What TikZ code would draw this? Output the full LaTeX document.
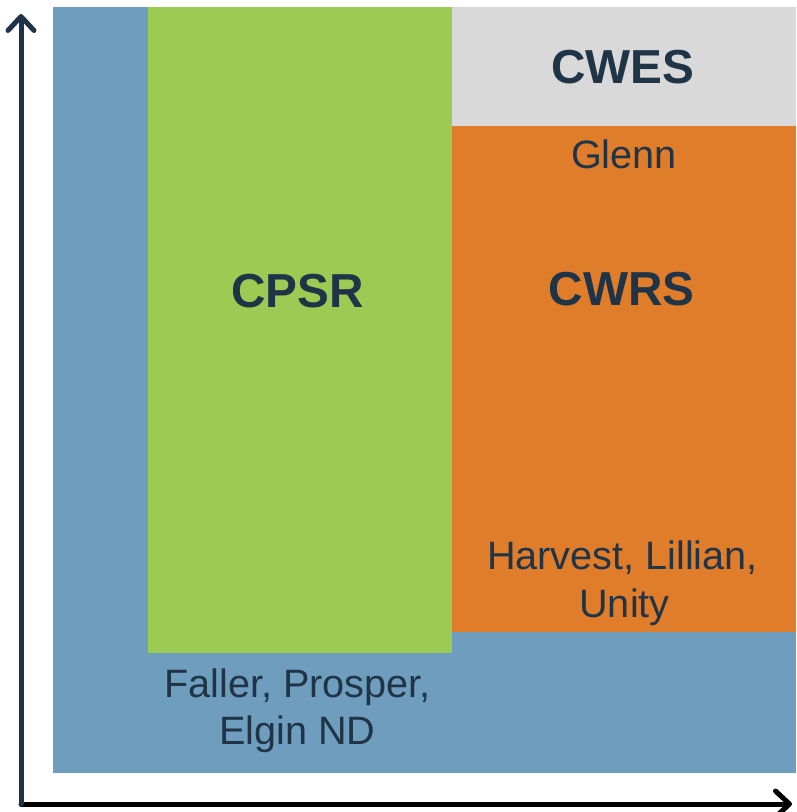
\documentclass[tikz,border=0pt]{standalone}
\usepackage{fontspec}
\setmainfont{Liberation Sans}
\usetikzlibrary{arrows.meta}
\definecolor{cblue}{HTML}{6F9DBD}
\definecolor{cgreen}{HTML}{9BCB53}
\definecolor{corange}{HTML}{E07D2B}
\definecolor{cgray}{HTML}{D9D9D9}
\definecolor{ctext}{HTML}{1F3447}
\definecolor{caxis}{HTML}{1F3447}
\begin{document}
\begin{tikzpicture}[x=1pt,y=-1pt,
  region/.style={fill=#1,draw=none},
  bigtxt/.style={text=ctext,font=\fontsize{47.7}{52}\selectfont\bfseries,inner sep=0pt,anchor=base},
  smalltxt/.style={text=ctext,font=\fontsize{39.6}{46}\selectfont,inner sep=0pt,anchor=base},
  axis/.style={line width=5pt,line cap=round,line join=round},
  axtip/.style={-{Straight Barb[length=14pt,width=26pt,round]}}
]
\useasboundingbox (0,0) rectangle (796,812);
% regions
\fill[region=cblue] (53,7) rectangle (796,773);
\fill[region=cgreen] (148,7) rectangle (452,653);
\fill[region=cgray] (452,7) rectangle (796,126);
\fill[region=corange] (452,126) rectangle (796,632);
% labels
\node[bigtxt] (cwes) at (623,83) {CWES};
\node[smalltxt] (glenn) at (624,168) {Glenn};
\node[bigtxt] (cwrs) at (621.5,305) {CWRS};
\node[bigtxt] (cpsr) at (297.5,307) {CPSR};
\node[smalltxt] (harvest) at (622.5,569) {Harvest, Lillian,};
\node[smalltxt] (unity) at (624.5,617) {Unity};
\node[smalltxt] (faller) at (297.5,697) {Faller, Prosper,};
\node[smalltxt] (elgin) at (297.5,744) {Elgin ND};
% axes
\coordinate (origin) at (21,804);
\coordinate (ytip) at (21,14);
\coordinate (xtip) at (792,804);
\draw[axis,axtip,draw=black] (origin) -- (xtip);
\draw[axis,axtip,draw=caxis] (origin) -- (ytip);
\end{tikzpicture}
\end{document}
